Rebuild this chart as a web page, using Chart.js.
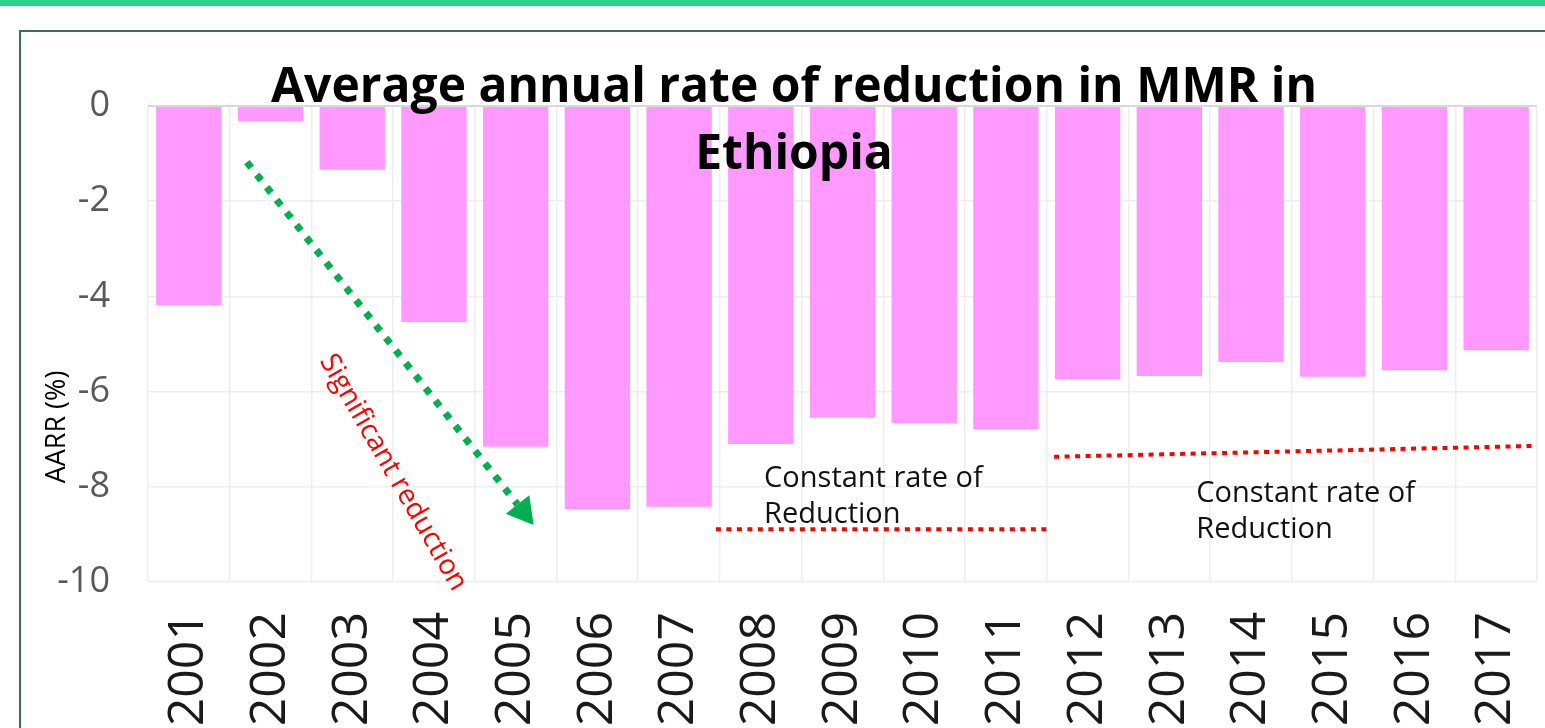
<!DOCTYPE html>
<html>
<head>
<meta charset="utf-8">
<title>AARR in MMR - Ethiopia</title>
<script src="https://cdn.jsdelivr.net/npm/chart.js@4.4.1/dist/chart.umd.min.js"></script>
<style>
  html, body { margin: 0; padding: 0; background: #fff; overflow: hidden; }
  .top-bar { position: absolute; left: 0; top: 0; width: 1545px; height: 6px; background: #2bd08b; }
  .frame { position: absolute; left: 19px; top: 30px; width: 1600px; height: 800px; border: 2px solid #3b6a70; }
  .chart-box { position: absolute; left: 0; top: 0; width: 1545px; height: 800px; }
</style>
</head>
<body>
<div class="top-bar"></div>
<div class="frame"></div>
<div class="chart-box">
  <canvas id="aarrChart" width="1545" height="800"></canvas>
</div>

<script>
// Years and average annual rate of reduction (%)
const years = ['2001', '2002', '2003', '2004', '2005', '2006', '2007', '2008', '2009',
  '2010', '2011', '2012', '2013', '2014', '2015', '2016', '2017'];
const aarr = [-4.18, -0.32, -1.34, -4.54, -7.16, -8.47, -8.42, -7.10, -6.55,
  -6.66, -6.79, -5.74, -5.67, -5.38, -5.69, -5.55, -5.13];
const yTicks = [0, -2, -4, -6, -8, -10];

const titleLines = ['Average annual rate of reduction in MMR in', 'Ethiopia'];

// annotation anchors, in category index / AARR units
const trendArrow = { from: [0.71, -1.18], to: [4.22, -8.80] };
const trendLabel = { at: [2.50, -7.70], text: 'Significant reduction', angle: 60 };
const flatLines = [
  { from: [6.45, -8.89], to: [10.55, -8.89] },
  { from: [10.59, -7.37], to: [16.50, -7.14] }
];
const flatLabels = [
  { at: [7.04, -8.00], lines: ['Constant rate of', 'Reduction'] },
  { at: [12.33, -8.32], lines: ['Constant rate of', 'Reduction'] }
];

const FONT = '"Open Sans", "Noto Sans", sans-serif';

function px(chart, pt) {
  const xs = chart.scales.x, ys = chart.scales.y;
  const step = xs.getPixelForValue(1) - xs.getPixelForValue(0);
  return [xs.getPixelForValue(0) + pt[0] * step, ys.getPixelForValue(pt[1])];
}

const annotations = {
  id: 'annotations',
  afterDatasetsDraw(chart) {
    const ctx = chart.ctx;
    ctx.save();

    // title over the plot
    ctx.fillStyle = '#000';
    ctx.font = 'bold 48px ' + FONT;
    ctx.textAlign = 'center';
    ctx.textBaseline = 'alphabetic';
    ctx.fillText(titleLines[0], 794, 102);
    ctx.fillText(titleLines[1], 794, 169);

    // y axis title
    ctx.save();
    ctx.translate(57, 427);
    ctx.rotate(-Math.PI / 2);
    ctx.font = '27px ' + FONT;
    ctx.textAlign = 'center';
    ctx.textBaseline = 'middle';
    ctx.fillText('AARR (%)', 0, 0);
    ctx.restore();

    // green dotted trend arrow
    const a = px(chart, trendArrow.from);
    const b = px(chart, trendArrow.to);
    const ang = Math.atan2(b[1] - a[1], b[0] - a[0]);
    const headLen = 26, headW = 15;
    const shaftEnd = [b[0] - Math.cos(ang) * headLen, b[1] - Math.sin(ang) * headLen];
    ctx.strokeStyle = '#00b050';
    ctx.lineWidth = 7;
    ctx.setLineDash([7, 9]);
    ctx.beginPath();
    ctx.moveTo(a[0], a[1]);
    ctx.lineTo(shaftEnd[0], shaftEnd[1]);
    ctx.stroke();
    ctx.setLineDash([]);
    ctx.fillStyle = '#00b050';
    ctx.beginPath();
    ctx.moveTo(b[0], b[1]);
    ctx.lineTo(shaftEnd[0] + Math.sin(ang) * headW, shaftEnd[1] - Math.cos(ang) * headW);
    ctx.lineTo(shaftEnd[0] - Math.sin(ang) * headW, shaftEnd[1] + Math.cos(ang) * headW);
    ctx.closePath();
    ctx.fill();

    // rotated red label along the arrow
    const c = px(chart, trendLabel.at);
    ctx.save();
    ctx.translate(c[0], c[1]);
    ctx.rotate(trendLabel.angle * Math.PI / 180);
    ctx.fillStyle = '#ff0000';
    ctx.font = '28px ' + FONT;
    ctx.textAlign = 'center';
    ctx.textBaseline = 'middle';
    ctx.fillText(trendLabel.text, 0, 0);
    ctx.restore();

    // red dotted "constant" lines
    ctx.strokeStyle = '#ff0000';
    ctx.lineWidth = 4;
    ctx.setLineDash([5, 5.5]);
    flatLines.forEach(l => {
      const p = px(chart, l.from), q = px(chart, l.to);
      ctx.beginPath();
      ctx.moveTo(p[0], p[1]);
      ctx.lineTo(q[0], q[1]);
      ctx.stroke();
    });
    ctx.setLineDash([]);

    ctx.fillStyle = '#111';
    ctx.font = '29px ' + FONT;
    ctx.textAlign = 'left';
    ctx.textBaseline = 'alphabetic';
    flatLabels.forEach(t => {
      const p = px(chart, t.at);
      t.lines.forEach((line, i) => ctx.fillText(line, p[0], p[1] + i * 36));
    });

    ctx.restore();
  }
};

new Chart(document.getElementById('aarrChart'), {
  type: 'bar',
  data: {
    labels: years,
    datasets: [{
      label: 'AARR (%)',
      data: aarr,
      backgroundColor: '#ff99ff',
      borderWidth: 0,
      categoryPercentage: 1,
      barPercentage: 0.8
    }]
  },
  options: {
    responsive: false,
    animation: false,
    layout: { padding: { top: 106, right: 8, left: 0, bottom: 0 } },
    plugins: {
      legend: { display: false },
      tooltip: { enabled: false }
    },
    scales: {
      x: {
        grid: { color: '#eeeeee', lineWidth: 1.5, drawTicks: false, offset: true },
        border: { display: false },
        ticks: {
          color: '#1a1a1a',
          font: { family: FONT, size: 50 },
          minRotation: 90,
          maxRotation: 90,
          autoSkip: false,
          padding: 30
        },
        afterFit(scale) {
          scale.height = 218;
          // rotated labels would otherwise pad the plot edges
          scale.paddingLeft = 0;
          scale.paddingRight = 0;
        }
      },
      y: {
        min: -10,
        max: 0,
        afterBuildTicks(scale) { scale.ticks = yTicks.map(v => ({ value: v })); },
        grid: {
          color: ctx => ctx.tick && ctx.tick.value === 0 ? '#d9d9d9' : '#eeeeee',
          lineWidth: ctx => ctx.tick && ctx.tick.value === 0 ? 2 : 1.5,
          drawTicks: false
        },
        border: { display: false },
        ticks: {
          color: '#595959',
          font: { family: FONT, size: 36 },
          padding: 38
        },
        afterFit(scale) { scale.width = 148; }
      }
    }
  },
  plugins: [annotations]
});
</script>
</body>
</html>
